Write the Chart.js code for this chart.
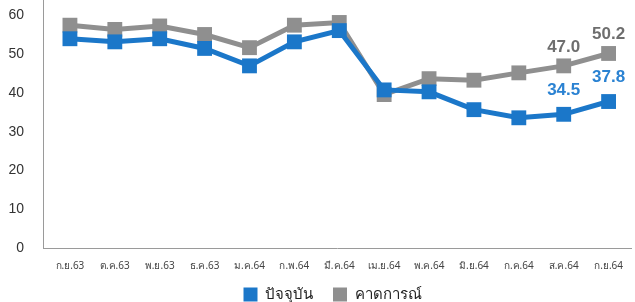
<!DOCTYPE html>
<html>
<head>
<meta charset="utf-8">
<script src="https://cdn.jsdelivr.net/npm/chart.js@4"></script>
<style>
  html, body { margin: 0; padding: 0; background: #fff; }
  #wrap { width: 635px; height: 302px; position: relative; }
</style>
</head>
<body>
<div id="wrap"><canvas id="grafico"></canvas></div>
<script>
// === DATI ===
const months = ['ก.ย.63', 'ต.ค.63', 'พ.ย.63', 'ธ.ค.63', 'ม.ค.64', 'ก.พ.64', 'มี.ค.64',
  'เม.ย.64', 'พ.ค.64', 'มิ.ย.64', 'ก.ค.64', 'ส.ค.64', 'ก.ย.64'];
const current = [54.0, 53.2, 54.0, 51.5, 47.0, 53.2, 56.1, 40.8, 40.3, 35.7, 33.6, 34.5, 37.8];
const forecast = [57.5, 56.4, 57.3, 55.1, 51.7, 57.5, 58.2, 39.6, 43.7, 43.3, 45.2, 47.0, 50.2];
const seriesNames = ['ปัจจุบัน', 'คาดการณ์'];
const yTicks = [0, 10, 20, 30, 40, 50, 60];
const labelIdx = [11, 12];   // punti con etichetta

const BLUE = '#1b77c9';
const GREY = '#8f8f8f';

// etichette sui punti finali
const valueLabels = {
  id: 'valueLabels',
  afterDatasetsDraw(chart) {
    const ctx = chart.ctx;
    ctx.save();
    ctx.font = 'bold 17px "Liberation Sans", Arial, sans-serif';
    ctx.textAlign = 'center';
    ctx.textBaseline = 'middle';
    chart.data.datasets.forEach((ds, di) => {
      const meta = chart.getDatasetMeta(di);
      labelIdx.forEach(i => {
        const pt = meta.data[i];
        ctx.fillStyle = di === 0 ? '#2a82d2' : '#6e6e6e';
        ctx.fillText(ds.data[i].y.toFixed(1), pt.x, pt.y - (di === 0 ? 24 : 19));
      });
    });
    ctx.restore();
  }
};

// piccoli aggiustamenti dopo il layout: etichette asse x non tagliate, legenda spostata
const layoutTweaks = {
  id: 'layoutTweaks',
  afterLayout(chart) {
    chart.scales.x.bottom = chart.height;
    chart.legend.left += 15;
    chart.legend.right += 15;
  }
};

const toPoints = arr => arr.map((v, i) => ({ x: i, y: v }));

const lineStyle = color => ({
  borderColor: color,
  backgroundColor: color,
  borderWidth: 5,
  pointStyle: 'rect',
  pointRadius: 10.5,
  pointBorderWidth: 0,
  tension: 0,
  clip: false
});

new Chart(document.getElementById('grafico'), {
  type: 'line',
  data: {
    datasets: [
      { label: seriesNames[0], data: toPoints(current), ...lineStyle(BLUE) },
      { label: seriesNames[1], data: toPoints(forecast), ...lineStyle(GREY) }
    ]
  },
  options: {
    responsive: true,
    maintainAspectRatio: false,
    animation: false,
    layout: { autoPadding: false, padding: { top: 0, right: 0, left: 0, bottom: -10 } },
    plugins: {
      tooltip: { enabled: false },
      legend: {
        position: 'bottom',
        labels: {
          boxWidth: 14,
          boxHeight: 14,
          padding: 20,
          color: '#222',
          font: { size: 15, family: '"Noto Sans", "Liberation Sans", sans-serif' },
          generateLabels: chart => Chart.defaults.plugins.legend.labels.generateLabels(chart)
            .map(l => ({ ...l, lineWidth: 0 }))
        }
      }
    },
    scales: {
      x: {
        type: 'linear',
        min: -0.6,
        max: 12.51,
        grid: { display: false, drawTicks: false },
        border: { color: '#9a9a9a', width: 1 },
        ticks: {
          padding: 12,
          maxRotation: 0,
          autoSkip: false,
          color: '#444',
          font: { size: 10, family: '"Noto Sans", "Liberation Sans", sans-serif' },
          callback: v => months[v] ?? ''
        },
        afterBuildTicks: scale => {
          scale.ticks = months.map((m, i) => ({ value: i }));
        },
        afterFit: scale => { scale.height = 19; }
      },
      y: {
        min: 0,
        max: 64,
        grid: { display: false, drawTicks: false },
        border: { color: '#9a9a9a', width: 1 },
        ticks: {
          padding: 19,
          color: '#333',
          font: { size: 14, family: '"Liberation Sans", Arial, sans-serif' }
        },
        afterBuildTicks: scale => {
          scale.ticks = yTicks.map(v => ({ value: v }));
        },
        afterFit: scale => {
          scale.width = 43;
          scale.paddingTop = 0;
          scale.paddingBottom = 0;
        }
      }
    }
  },
  plugins: [valueLabels, layoutTweaks]
});
</script>
</body>
</html>
